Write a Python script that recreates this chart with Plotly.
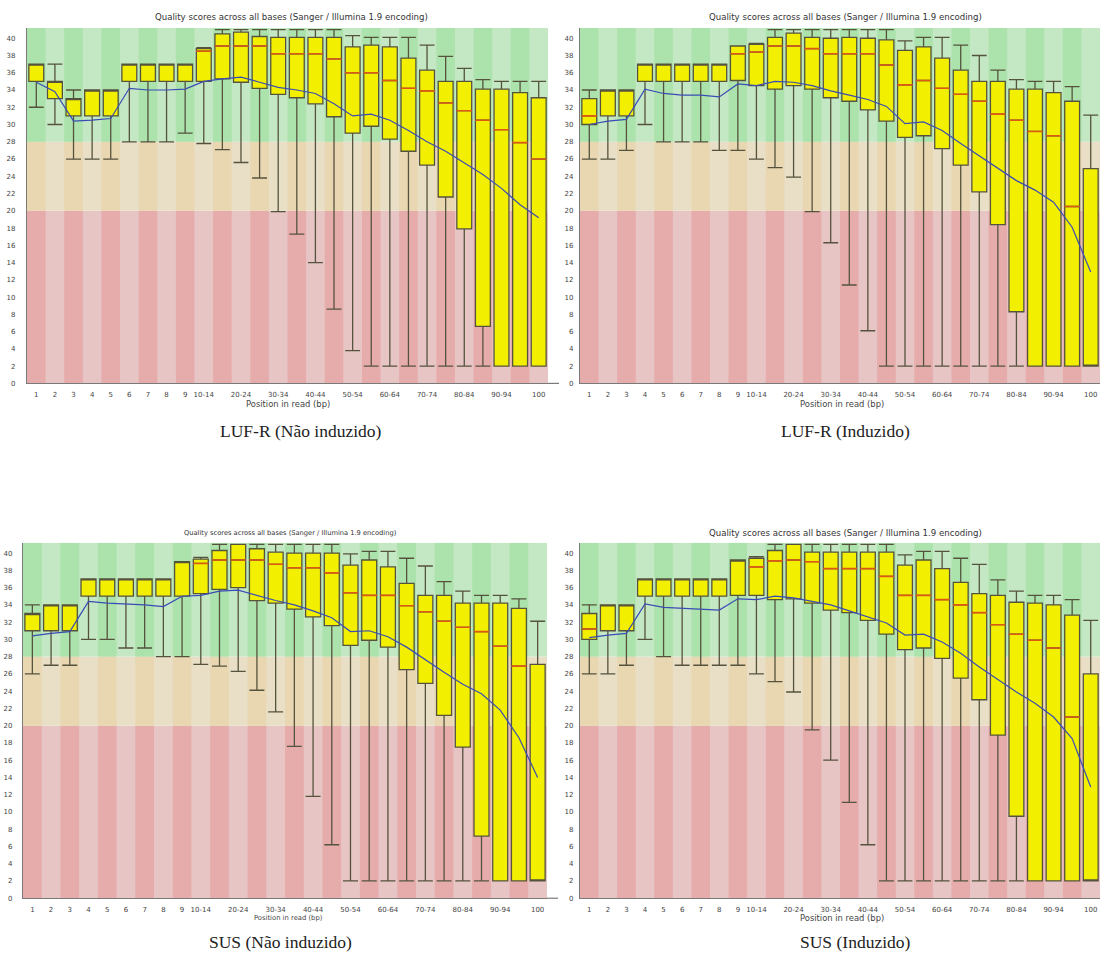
import plotly.graph_objects as go

# ---------------------------------------------------------------------------
# Per-base sequence quality (FastQC style) for four libraries
# ---------------------------------------------------------------------------
POSITIONS = ["1", "2", "3", "4", "5", "6", "7", "8", "9", "10-14", "15-19",
             "20-24", "25-29", "30-34", "35-39", "40-44", "45-49", "50-54",
             "55-59", "60-64", "65-69", "70-74", "75-79", "80-84", "85-89",
             "90-94", "95-99", "100"]
TICK_LABELS = ["1", "2", "3", "4", "5", "6", "7", "8", "9", "10-14", "20-24",
               "30-34", "40-44", "50-54", "60-64", "70-74", "80-84", "90-94",
               "100"]
Y_TICKS = list(range(0, 41, 2))

# LUF-R (Não induzido)
LUF_NI_Q3 = [37, 35, 33, 34, 34, 37, 37, 37, 37, 38.8, 40.5, 40.7, 40.2, 40.1,
             40.1, 40.1, 40.1, 39.0, 39.2, 39.0, 37.7, 36.3, 35.0, 35.0, 34.1,
             34.1, 33.7, 33.1]
LUF_NI_MED = [37, 35, 33, 34, 34, 37, 37, 37, 37, 38.5, 39.1, 39.1, 39.1, 38.2,
              38.2, 38.2, 37.6, 36.0, 36.0, 35.1, 34.2, 33.9, 32.5, 31.6, 30.5,
              29.4, 27.9, 26.0]
LUF_NI_Q1 = [35, 33, 31, 31, 31, 35, 35, 35, 35, 35.0, 35.3, 34.9, 34.2, 33.5,
             33.1, 32.4, 30.9, 29.0, 29.8, 28.3, 26.9, 25.3, 21.6, 17.9, 6.6,
             2, 2, 2]
LUF_NI_HI = [37, 37, 34, 34, 34, 37, 37, 37, 37, 38.9, 41, 41, 41, 41, 41, 41,
             41, 40.3, 40.1, 40.1, 40.1, 39.2, 37.9, 36.5, 35.2, 35.0, 35.0,
             35.0]
LUF_NI_LO = [32, 30, 26, 26, 26, 28, 28, 28, 29, 27.8, 27.1, 25.6, 23.8, 19.9,
             17.3, 14.0, 8.6, 3.8, 2, 2, 2, 2, 2, 2, 2, 2, 2, 2]
LUF_NI_MEAN = [34.9, 33.8, 30.4, 30.5, 30.7, 34.2, 34.0, 34.0, 34.1, 35.0,
               35.3, 35.5, 34.9, 34.3, 34.0, 33.6, 32.4, 31.0, 31.2, 30.5,
               29.3, 28.0, 26.9, 25.5, 24.2, 22.6, 20.7, 19.2]

# LUF-R (Induzido)
LUF_I_Q3 = [33, 34, 34, 37, 37, 37, 37, 37, 39.1, 39.3, 40.1, 40.6, 40.1, 40.0,
            40.1, 40.0, 39.8, 38.6, 39.0, 37.7, 36.3, 35.0, 35.0, 34.1, 34.1,
            33.7, 32.7, 24.9]
LUF_I_MED = [31, 34, 34, 37, 37, 37, 37, 37, 38.2, 38.4, 39.1, 39.1, 38.8,
             38.2, 38.2, 38.2, 36.9, 34.6, 35.1, 34.2, 33.5, 32.7, 31.2, 30.5,
             29.2, 28.7, 20.5, 2]
LUF_I_Q1 = [30, 31, 31, 35, 35, 35, 35, 35, 35.1, 34.5, 34.1, 34.5, 34.1, 33.1,
            32.7, 31.7, 30.4, 28.5, 28.7, 27.2, 25.3, 22.2, 18.4, 8.3, 2, 2, 2,
            2]
LUF_I_HI = [34, 34, 34, 37, 37, 37, 37, 37, 39.1, 39.4, 41, 41, 41, 41, 41, 41,
            41, 39.7, 40.1, 40.1, 39.2, 38.0, 36.3, 35.2, 35.0, 35.0, 34.4,
            31.1]
LUF_I_LO = [26, 26, 27, 30, 28, 28, 28, 27, 27, 26, 25, 23.9, 19.9, 16.3, 11.4,
            6.1, 2, 2, 2, 2, 2, 2, 2, 2, 2, 2, 2, 2]
LUF_I_MEAN = [30.0, 30.4, 30.6, 34.1, 33.6, 33.4, 33.4, 33.2, 34.7, 34.5, 35.0,
              34.9, 34.5, 33.9, 33.4, 32.9, 32.1, 30.1, 30.3, 29.3, 27.8, 26.4,
              24.9, 23.5, 22.4, 21.0, 18.1, 12.9]

# SUS (Não induzido)
SUS_NI_Q3 = [33, 34, 34, 37, 37, 37, 37, 37, 39, 39.3, 40.3, 41, 40.5, 40.1,
             40.0, 40.0, 40.0, 38.6, 39.2, 38.4, 36.5, 35.1, 35.1, 34.2, 34.2,
             34.2, 33.6, 27.1]
SUS_NI_MED = [33, 34, 34, 37, 37, 37, 37, 37, 39, 38.8, 39.2, 39.2, 39.2, 38.7,
              38.3, 38.3, 37.7, 35.4, 35.1, 35.1, 33.9, 33.2, 32.1, 31.4, 30.9,
              29.2, 26.9, 2]
SUS_NI_Q1 = [31, 31, 31, 35, 35, 35, 35, 35, 35, 35.3, 35.8, 36.0, 34.5, 34.2,
             33.5, 32.6, 31.6, 29.3, 29.9, 29.1, 26.5, 24.9, 21.2, 17.5, 7.2, 2,
             2, 2]
SUS_NI_HI = [34, 34, 34, 37, 37, 37, 37, 37, 39, 39.5, 41, 41, 41, 41, 41, 41,
             41, 39.9, 40.2, 40.2, 39.4, 38.5, 36.7, 35.6, 35.1, 35.1, 34.7,
             32.1]
SUS_NI_LO = [26, 27, 27, 30, 30, 29, 29, 28, 28, 27.1, 26.9, 26.3, 24.1, 21.6,
             17.6, 11.8, 6.2, 2, 2, 2, 2, 2, 2, 2, 2, 2, 2, 2]
SUS_NI_MEAN = [30.4, 30.7, 30.9, 34.4, 34.2, 34.1, 34.0, 33.8, 35.0, 35.1,
               35.6, 35.7, 35.1, 34.5, 34.0, 33.3, 32.5, 30.9, 31.0, 30.3,
               29.1, 27.6, 26.2, 24.8, 23.7, 21.8, 18.6, 14.0]

# SUS (Induzido)
SUS_I_Q3 = [33, 34, 34, 37, 37, 37, 37, 37, 39.2, 39.4, 40.3, 41, 40.1, 40.1,
            40.1, 40.1, 40.1, 38.6, 39.2, 38.2, 36.6, 35.3, 35.1, 34.3, 34.2,
            34.0, 32.8, 26.0]
SUS_I_MED = [31.2, 34, 34, 37, 37, 37, 37, 37, 39.2, 38.4, 39.1, 39.2, 39.0,
             38.2, 38.2, 38.2, 37.3, 35.1, 35.1, 34.6, 34.0, 33.1, 31.7, 30.6,
             29.9, 29.0, 21.0, 2]
SUS_I_Q1 = [30, 31, 31, 35, 35, 35, 35, 35, 35.1, 35.1, 34.6, 34.7, 34.2, 33.4,
            33.1, 32.2, 30.6, 28.8, 29.0, 27.8, 25.5, 23.0, 18.9, 9.5, 2, 2, 2,
            2]
SUS_I_HI = [34, 34, 34, 37, 37, 37, 37, 37, 39.2, 39.6, 41, 41, 41, 41, 41, 41,
            41, 39.8, 40.2, 40.2, 39.4, 38.7, 36.9, 35.6, 35.1, 35.1, 34.6,
            32.2]
SUS_I_LO = [26, 26, 27, 30, 28, 27, 27, 27, 27, 26, 25.1, 23.9, 19.5, 16.0,
            11.1, 6.2, 2, 2, 2, 2, 2, 2, 2, 2, 2, 2, 2, 2]
SUS_I_MEAN = [30.2, 30.5, 30.7, 34.1, 33.7, 33.6, 33.5, 33.4, 34.7, 34.6, 35.0,
              34.8, 34.4, 34.0, 33.3, 32.6, 31.9, 30.5, 30.6, 29.7, 28.4, 26.8,
              25.3, 23.9, 22.6, 21.0, 18.5, 12.9]

# ---------------------------------------------------------------------------
# Page geometry (pixels) and styling
# ---------------------------------------------------------------------------
W, H = 1102, 958
Y_MAX = 41.2

GOOD_L, GOOD_D = "rgb(196,231,196)", "rgb(172,226,172)"
BAD_L, BAD_D = "rgb(233,222,198)", "rgb(233,215,178)"
UGLY_L, UGLY_D = "rgb(232,197,197)", "rgb(230,172,172)"
BANDS = [(0, 20, UGLY_L, UGLY_D), (20, 28, BAD_L, BAD_D), (28, Y_MAX, GOOD_L, GOOD_D)]

BOX_FILL = "#f2f000"
BOX_LINE = "#55533e"
MEDIAN_COLOR = "#dc5a14"
MEAN_COLOR = "#3a4cb4"
AXIS_COLOR = "#7a7a7a"
TICK_FONT = dict(family="DejaVu Sans", size=7, color="#444444")
TITLE = "Quality scores across all bases (Sanger / Illumina 1.9 encoding)"

PANELS = [
    dict(caption="LUF-R (Não induzido)",
         q1=LUF_NI_Q1, med=LUF_NI_MED, q3=LUF_NI_Q3, lo=LUF_NI_LO, hi=LUF_NI_HI,
         mean=LUF_NI_MEAN,
         plot=(27, 548, 28, 385), title_xy=(291, 17), title_size=8.6,
         xtitle_xy=(288, 406), xtitle_size=8.4, cap_xy=(301, 433),
         standoff=9, ext=559),
    dict(caption="LUF-R (Induzido)",
         q1=LUF_I_Q1, med=LUF_I_MED, q3=LUF_I_Q3, lo=LUF_I_LO, hi=LUF_I_HI,
         mean=LUF_I_MEAN,
         plot=(580, 1100, 28, 385), title_xy=(845, 17), title_size=8.6,
         xtitle_xy=(842, 406), xtitle_size=8.4, cap_xy=(845, 433),
         standoff=4, ext=None),
    dict(caption="SUS (Não induzido)",
         q1=SUS_NI_Q1, med=SUS_NI_MED, q3=SUS_NI_Q3, lo=SUS_NI_LO, hi=SUS_NI_HI,
         mean=SUS_NI_MEAN,
         plot=(23, 547, 545, 902), title_xy=(290, 535), title_size=6.7,
         xtitle_xy=(288, 922), xtitle_size=6.8, cap_xy=(280, 946),
         standoff=8, ext=558),
    dict(caption="SUS (Induzido)",
         q1=SUS_I_Q1, med=SUS_I_MED, q3=SUS_I_Q3, lo=SUS_I_LO, hi=SUS_I_HI,
         mean=SUS_I_MEAN,
         plot=(580, 1100, 545, 902), title_xy=(845, 535), title_size=8.6,
         xtitle_xy=(842, 922), xtitle_size=8.4, cap_xy=(855, 946),
         standoff=4, ext=None),
]


def fx(px):
    return px / W


def fy(py):
    return 1 - py / H


fig = go.Figure()
shapes, annotations = [], []

for k, p in enumerate(PANELS, start=1):
    sfx = "" if k == 1 else str(k)
    xa, ya = "x" + sfx, "y" + sfx
    x0, x1, y0, y1 = p["plot"]

    # quality bands with alternating column shading
    n = len(POSITIONS)
    for lo_b, hi_b, light, dark in BANDS:
        shapes.append(dict(type="rect", xref=xa, yref=ya, x0=-0.5, x1=n - 0.5,
                           y0=lo_b, y1=hi_b, fillcolor=light, line_width=0,
                           layer="below"))
        for i in range(0, n, 2):
            shapes.append(dict(type="rect", xref=xa, yref=ya, x0=i - 0.5,
                               x1=i + 0.5, y0=lo_b, y1=hi_b, fillcolor=dark,
                               line_width=0, layer="below"))

    fig.add_trace(go.Box(
        x=POSITIONS, q1=p["q1"], median=p["med"], q3=p["q3"],
        lowerfence=p["lo"], upperfence=p["hi"],
        xaxis=xa, yaxis=ya, width=0.8, whiskerwidth=1, boxpoints=False,
        fillcolor=BOX_FILL, line=dict(color=BOX_LINE, width=1.3),
        showlegend=False, hoverinfo="skip"))

    # median bars where they fall inside the box
    mx = [c for c, a, m, b in zip(POSITIONS, p["q1"], p["med"], p["q3"]) if a < m < b]
    my = [m for a, m, b in zip(p["q1"], p["med"], p["q3"]) if a < m < b]
    fig.add_trace(go.Scatter(
        x=mx, y=my, mode="markers", xaxis=xa, yaxis=ya,
        marker=dict(symbol="line-ew", size=11,
                    line=dict(color=MEDIAN_COLOR, width=1.6)),
        showlegend=False, hoverinfo="skip"))

    fig.add_trace(go.Scatter(
        x=POSITIONS, y=p["mean"], mode="lines", xaxis=xa, yaxis=ya,
        line=dict(color=MEAN_COLOR, width=1.2),
        showlegend=False, hoverinfo="skip"))

    fig.update_layout({
        "xaxis" + sfx: dict(
            domain=[fx(x0), fx(x1)], anchor=ya, type="category",
            categoryorder="array", categoryarray=POSITIONS,
            range=[-0.5, n - 0.5], tickmode="array", tickvals=TICK_LABELS,
            ticktext=TICK_LABELS, tickfont=TICK_FONT, showgrid=False,
            zeroline=False, showline=True, linecolor=AXIS_COLOR, linewidth=1.2,
            ticks="", ticklabelstandoff=4, tickangle=0, fixedrange=True),
        "yaxis" + sfx: dict(
            domain=[fy(y1), fy(y0)], anchor=xa, range=[0, Y_MAX],
            tickmode="array", tickvals=Y_TICKS, tickfont=TICK_FONT,
            showgrid=False, zeroline=False, showline=True,
            linecolor=AXIS_COLOR, linewidth=1.2, ticks="",
            ticklabelstandoff=p["standoff"], fixedrange=True),
    })

    if p["ext"]:
        shapes.append(dict(type="line", xref="paper", yref="paper",
                           x0=fx(x1), x1=fx(p["ext"]), y0=fy(y1), y1=fy(y1),
                           line=dict(color=AXIS_COLOR, width=1.2)))

    tx, ty = p["title_xy"]
    annotations.append(dict(text=TITLE, xref="paper", yref="paper",
                            x=fx(tx), y=fy(ty), showarrow=False,
                            xanchor="center", yanchor="middle",
                            font=dict(family="DejaVu Sans", size=p["title_size"],
                                      color="#333333")))
    xx, xy = p["xtitle_xy"]
    annotations.append(dict(text="Position in read (bp)", xref="paper",
                            yref="paper", x=fx(xx), y=fy(xy), showarrow=False,
                            xanchor="center", yanchor="middle",
                            font=dict(family="DejaVu Sans", size=p["xtitle_size"],
                                      color="#444444")))
    cx, cy = p["cap_xy"]
    annotations.append(dict(text=p["caption"], xref="paper", yref="paper",
                            x=fx(cx), y=fy(cy), showarrow=False,
                            xanchor="center", yanchor="middle",
                            font=dict(family="Liberation Serif", size=17.5,
                                      color="#222222")))

fig.update_layout(
    width=W, height=H, margin=dict(l=0, r=0, t=0, b=0),
    paper_bgcolor="white", plot_bgcolor="white",
    boxmode="overlay", showlegend=False,
    shapes=shapes, annotations=annotations,
)

fig.write_html("out.html")
